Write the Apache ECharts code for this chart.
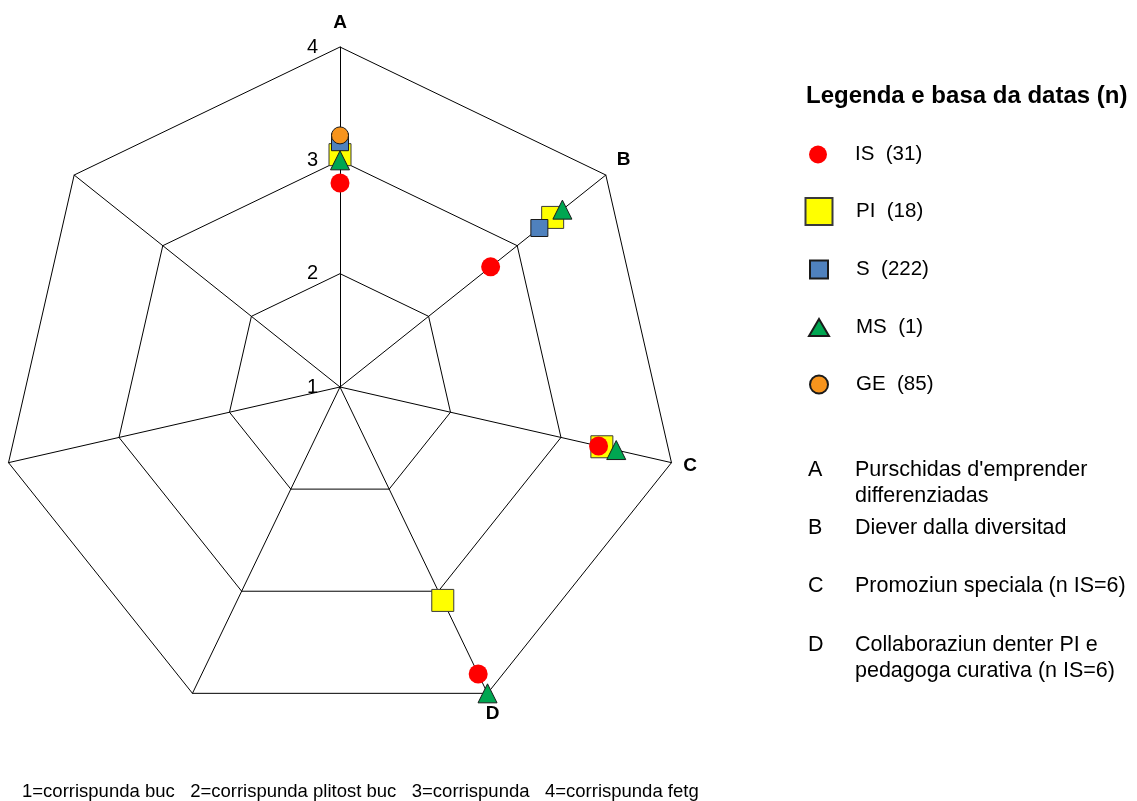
<!DOCTYPE html>
<html>
<head>
<meta charset="utf-8">
<title>Radar</title>
<script src="https://cdn.jsdelivr.net/npm/echarts@6/dist/echarts.min.js"></script>
<style>
html, body { margin: 0; padding: 0; background: #fff; }
#main { width: 1137px; height: 801px; }
</style>
</head>
<body>
<div id="main"></div>
<script>
// axes, clockwise from the top; only A-D carry data
var categories = ['A', 'B', 'C', 'D', '', '', ''];
var tickValues = [1, 2, 3, 4];

var seriesNames = ['IS', 'PI', 'S', 'MS', 'GE'];
var seriesCounts = [31, 18, 222, 1, 85];

// values on A, B, C, D
var valuesIS = [2.80, 2.70, 3.34, 3.81];
var valuesPI = [3.05, 3.40, 3.37, 3.09];
var valuesS  = [3.16, 3.25, null, null];
var valuesMS = [3.00, 3.51, 3.50, 4.00];
var valuesGE = [3.22, null, null, null];

var descLetters = ['A', 'B', 'C', 'D'];
var descTexts = [
    "Purschidas d'emprender\ndifferenziadas",
    'Diever dalla diversitad',
    'Promoziun speciala (n IS=6)',
    'Collaboraziun denter PI e\npedagoga curativa (n IS=6)'
];
var legendTitle = 'Legenda e basa da datas (n)';
var footnote = '1=corrispunda buc   2=corrispunda plitost buc   3=corrispunda   4=corrispunda fetg';

var FONT = '"Liberation Sans", Arial, sans-serif';
var CX = 340, CY = 387, R = 340;

// marker looks: symbol, size on chart, legend icon w/h, fill, border, drawing order
var looks = {
    IS: { symbol: 'circle',   size: 19, lw: 18, lh: 18, color: '#ff0000', border: '#ff0000', bw: 0, z: 4 },
    PI: { symbol: 'rect',     size: 22, lw: 27, lh: 27, color: '#ffff00', border: '#3a3a3a', bw: 1, z: 2 },
    S:  { symbol: 'rect',     size: 17, lw: 18, lh: 18, color: '#4f81bd', border: '#1a1a1a', bw: 1, z: 3 },
    MS: { symbol: 'triangle', size: 19, lw: 20, lh: 17, color: '#00a651', border: '#1a1a1a', bw: 1, z: 5 },
    GE: { symbol: 'circle',   size: 17, lw: 18, lh: 18, color: '#f7941d', border: '#1a1a1a', bw: 1, z: 6 }
};
var allValues = { IS: valuesIS, PI: valuesPI, S: valuesS, MS: valuesMS, GE: valuesGE };

// per-axis name placement tweaks
var nameTweaks = {
    A: { nameGap: 15 },
    B: { nameGap: 10, nameTextStyle: { verticalAlign: 'bottom', padding: [0, 0, 0, 3] } },
    D: { nameTextStyle: { align: 'center', verticalAlign: 'top' } }
};

// radar draws its indicators counter-clockwise, so reverse all but the first
var order = [0];
for (var k = categories.length - 1; k >= 1; k--) order.push(k);
var indicators = order.map(function (i) {
    var ind = { name: categories[i], min: tickValues[0], max: tickValues[tickValues.length - 1] };
    var tw = nameTweaks[categories[i]];
    if (tw) {
        if (tw.nameGap != null) ind.nameGap = tw.nameGap;
        if (tw.nameTextStyle) ind.nameTextStyle = tw.nameTextStyle;
    }
    return ind;
});

var series = [];
var legends = [];
seriesNames.forEach(function (name, si) {
    var lk = looks[name];
    var pts = [];
    allValues[name].forEach(function (v, i) {
        if (v != null) pts.push([v, i]);
    });
    series.push({
        name: name,
        type: 'scatter',
        coordinateSystem: 'polar',
        symbol: lk.symbol,
        symbolSize: lk.size,
        z: lk.z,
        itemStyle: { color: lk.color, borderColor: lk.border, borderWidth: lk.bw, opacity: 1 },
        data: pts
    });
    var cy = 153 + si * 57.5;
    var pad = 855 - (818 + lk.lw / 2 + 5);
    legends.push({
        orient: 'vertical',
        left: 818 - lk.lw / 2,
        top: cy - lk.lh / 2,
        padding: 0,
        selectedMode: false,
        itemWidth: lk.lw,
        itemHeight: lk.lh,
        data: [name],
        formatter: function (n) {
            return '{n|' + n + '  (' + seriesCounts[si] + ')}';
        },
        textStyle: {
            rich: {
                n: { fontFamily: FONT, fontSize: 20.5, color: '#000', padding: [0, 0, 0, pad] }
            }
        }
    });
});

var graphics = [];
descLetters.forEach(function (l, i) {
    var top = 457 + i * 58.2;
    graphics.push({ type: 'text', left: 808, top: top,
        style: { text: l, font: '21.5px ' + FONT, fill: '#000', lineHeight: 26 } });
    graphics.push({ type: 'text', left: 855, top: top,
        style: { text: descTexts[i], font: '21.5px ' + FONT, fill: '#000', lineHeight: 26 } });
});

var dom = document.getElementById('main');
var myChart = echarts.init(dom);
var option = {
    backgroundColor: '#fff',
    animation: false,
    title: [
        {
            text: legendTitle,
            left: 806,
            top: 84,
            padding: 0,
            textStyle: { fontFamily: FONT, fontSize: 24, fontWeight: 'bold', color: '#000' }
        },
        {
            text: footnote,
            left: 22,
            top: 782,
            padding: 0,
            textStyle: { fontFamily: FONT, fontSize: 18.5, fontWeight: 'normal', color: '#000' }
        }
    ],
    legend: legends,
    radar: {
        center: [CX, CY],
        radius: R,
        startAngle: 90,
        splitNumber: 3,
        shape: 'polygon',
        nameGap: 12,
        axisName: { color: '#000', fontFamily: FONT, fontSize: 19, fontWeight: 'bold' },
        axisLine: { lineStyle: { color: '#000', width: 1 } },
        splitLine: { lineStyle: { color: '#000', width: 1 } },
        splitArea: { show: false },
        axisTick: { show: false },
        axisLabel: { show: false },
        indicator: indicators
    },
    polar: { center: [CX, CY], radius: R },
    angleAxis: {
        type: 'value',
        min: 0,
        max: categories.length,
        startAngle: 90,
        clockwise: true,
        axisLine: { show: false },
        axisTick: { show: false },
        axisLabel: { show: false },
        splitLine: { show: false }
    },
    radiusAxis: {
        type: 'value',
        min: tickValues[0],
        max: tickValues[tickValues.length - 1],
        interval: 1,
        axisLine: { show: false },
        axisTick: { show: false },
        splitLine: { show: false },
        axisLabel: { show: true, color: '#000', fontFamily: FONT, fontSize: 20, margin: 22 }
    },
    graphic: graphics,
    series: series
};
if (option && typeof option === 'object') {
    myChart.setOption(option, true);
    window.onresize = myChart.resize;
}
</script>
</body>
</html>
